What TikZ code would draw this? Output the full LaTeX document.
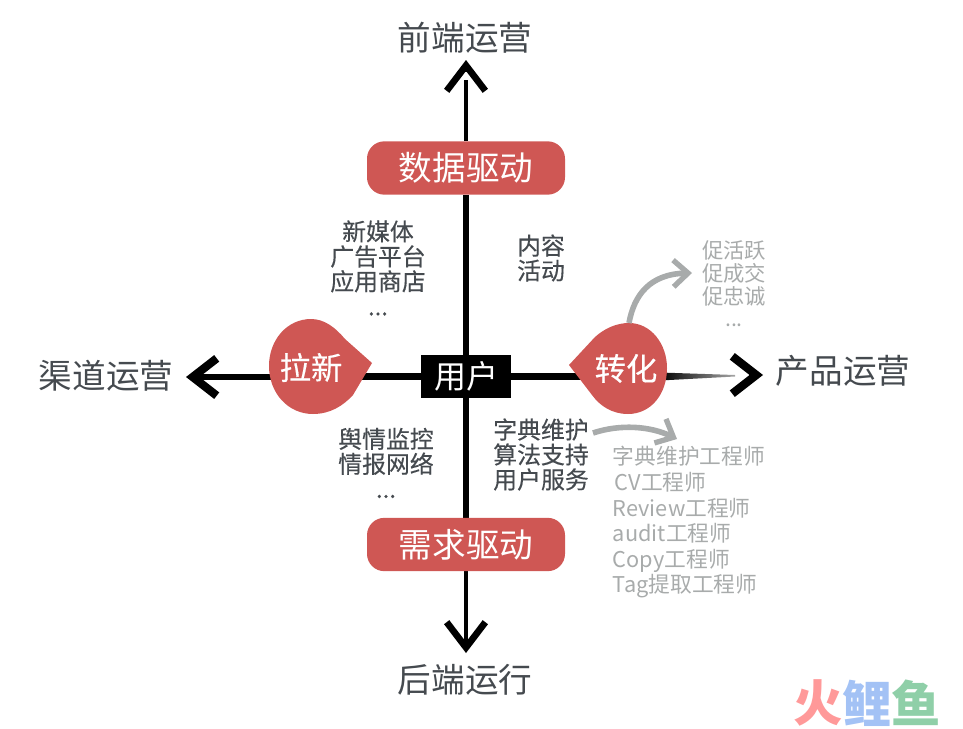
\documentclass[tikz,border=0pt]{standalone}
\usepackage{fontspec}
\setmainfont{Noto Sans CJK SC}
\newfontfamily\inkfont{Noto Sans CJK SC}[FakeBold=0.35]
\usepackage{tikz}
\usetikzlibrary{arrows.meta}
\usetikzlibrary{backgrounds}
\usetikzlibrary{calc}
\definecolor{coral}{rgb}{0.81,0.34,0.33}
\definecolor{inktext}{rgb}{0.27,0.29,0.31}
\definecolor{softgray}{rgb}{0.66,0.67,0.67}
\definecolor{logored}{rgb}{1.00,0.60,0.60}
\definecolor{logoblue}{rgb}{0.64,0.76,0.96}
\definecolor{logogreen}{rgb}{0.56,0.81,0.66}
\tikzset{
	axisline/.style={black, line width=5.2pt},
	thinline/.style={black, line width=2.4pt},
	chevron/.style={-{Straight Barb[length=19pt, width=29pt, line width=5pt]}},
	sidechevron/.style={-{Straight Barb[length=18pt, width=28pt, line width=6.2pt]}},
	bentarrow/.style={softgray, line width=4.2pt, -{Straight Barb[length=11pt, width=20pt, line width=4pt]}},
	drivebox/.style={fill=coral, rounded corners=13pt, minimum width=148.5pt, minimum height=40pt, inner sep=0pt, text=white, font=\fontsize{25.2}{28}\selectfont},
	droplabel/.style={inner sep=0pt, text=white, font=\inkfont\fontsize{23.5}{26}\selectfont},
	axislabel/.style={text=inktext, font=\fontsize{25.2}{28}\selectfont},
	notes/.style={text=inktext, align=center, font=\inkfont\fontsize{17.9}{18.7}\selectfont},
	graynotes/.style={text=softgray, align=center, font=\fontsize{16}{17}\selectfont},
	logotext/.style={font=\bfseries\fontsize{37}{40}\selectfont, inner sep=0pt}
}
\begin{document}
\begin{tikzpicture}[x=0.75pt, y=-0.75pt]
	\useasboundingbox (0,0) rectangle (963,728);
	% centre and the two driver boxes
	\node[fill=black, text=white, minimum width=67.5pt, minimum height=32pt, inner sep=0pt, font=\fontsize{24}{28}\selectfont] (user) at (466,376.5) {用户};
	\node[drivebox] (data) at (466,168) {数据驱动};
	\node[drivebox] (demand) at (466,544.5) {需求驱动};
	% the two drops
	\node[droplabel] (laxin) at (311,367.5) {拉新};
	\node[droplabel] (zhuanhua) at (626,368.5) {转化};
	\coordinate (zhuanhuatop) at (629,323);
	% ends of the axes
	\coordinate (topend) at (466,60);
	\coordinate (bottomend) at (466,653);
	\coordinate (leftend) at (186,377);
	\coordinate (rightend) at (763,375);
	% axis labels
	\node[axislabel] (front) at (465,38) {前端运营};
	\node[axislabel] (back) at (465,680) {后端运行};
	\node[axislabel] (channel) at (106,376) {渠道运营};
	\node[axislabel] (product) at (843,371) {产品运营};
	% notes
	\node[notes] (media) at (378,268) {新媒体\\广告平台\\应用商店\\...};
	\node[notes] (content) at (541,258) {内容\\活动};
	\node[notes] (opinion) at (386,463) {舆情监控\\情报网络\\...};
	\node[notes] (service) at (541,454.5) {字典维护\\算法支持\\用户服务};
	\node[graynotes] (promote) at (734,284) {促活跃\\促成交\\促忠诚\\...};
	\node[graynotes, align=left, font=\fontsize{16.3}{19.2}\selectfont] (engineers) at (689,522.5) {字典维护工程师\\\hspace{1.5pt}CV工程师\\Review工程师\\audit工程师\\Copy工程师\\Tag提取工程师};
	% logo
	\node[logotext, text=logored] (logohuo) at (818,703) {火};
	\node[logotext, text=logoblue] (logoli) at (867,703) {鲤};
	\node[logotext, text=logogreen] (logoyu) at (916,703) {鱼};
	% curved arrows
	\draw[bentarrow] (zhuanhuatop) .. controls (634,295) and (650,274) .. (692,273);
	\coordinate (servicearrow) at (593,433);
	\draw[bentarrow] (servicearrow) .. controls (620,424) and (650,426) .. (677,439);
	\begin{pgfonlayer}{background}
		\draw[axisline] (user.north) -- (data.south);
		\draw[axisline] (user.south) -- (demand.north);
		\draw[thinline] (data.north) -- ($(topend)+(0,20)$);
		\draw[axisline, chevron] ($(topend)+(0,12)$) -- (topend);
		\draw[axisline, line width=3.6pt, chevron] (demand.south) -- (bottomend);
		\draw[axisline] (user.west) -- (laxin.center |- user.west);
		\draw[axisline, sidechevron] (laxin.center |- leftend) -- (leftend);
		\draw[axisline] (user.east) -- (zhuanhua.center |- user.east);
		\shade[left color=black, right color=black!35] (660,372.5) -- (735,375) -- (735,376.5) -- (660,380.5) -- cycle;
		\draw[axisline, sidechevron] ($(rightend)+(-12,0)$) -- (rightend);
		% drops are drawn over the axes
		\fill[coral] (372,363) -- (345,339) .. controls (335,327) and (324,319) .. (311,319) .. controls (287,319) and (269,340) .. (269,366) .. controls (269,393) and (288,414) .. (313,414) .. controls (330,414) and (343,406) .. (353,395) -- cycle;
		\fill[coral] (569,365) -- (595,337) .. controls (605,328) and (617,323) .. (629,323) .. controls (651,323) and (667,344) .. (667,368) .. controls (667,394) and (651,414) .. (628,414) .. controls (612,414) and (600,406) .. (592,395) -- cycle;
	\end{pgfonlayer}
\end{tikzpicture}
\end{document}
